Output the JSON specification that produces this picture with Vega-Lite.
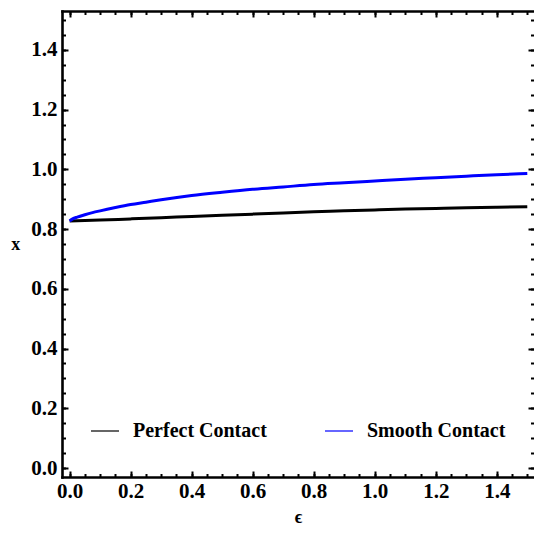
{
  "$schema": "https://vega.github.io/schema/vega-lite/v6.json",
  "autosize": "none",
  "width": 472,
  "height": 466,
  "padding": {"left": 62, "top": 11, "right": 0, "bottom": 59},
  "background": "white",
  "config": {
    "view": {"stroke": null},
    "font": "Liberation Serif",
    "axis": {"grid": false, "domain": false, "domainColor": "black", "domainWidth": 2.6, "domainCap": "square", "labelFont": "Liberation Serif", "labelFontWeight": "bold", "labelFontSize": 21, "labelColor": "black", "titleFont": "Liberation Serif", "titleFontWeight": "bold", "titleFontSize": 18, "titleColor": "black", "tickColor": "black", "tickWidth": 2}
  },
  "data": {"values": [
    {"eps": 0.0, "x": 0.827, "series": "Perfect Contact"},
    {"eps": 0.1, "x": 0.830, "series": "Perfect Contact"},
    {"eps": 0.2, "x": 0.834, "series": "Perfect Contact"},
    {"eps": 0.3, "x": 0.838, "series": "Perfect Contact"},
    {"eps": 0.4, "x": 0.842, "series": "Perfect Contact"},
    {"eps": 0.5, "x": 0.846, "series": "Perfect Contact"},
    {"eps": 0.6, "x": 0.850, "series": "Perfect Contact"},
    {"eps": 0.7, "x": 0.854, "series": "Perfect Contact"},
    {"eps": 0.8, "x": 0.858, "series": "Perfect Contact"},
    {"eps": 0.9, "x": 0.861, "series": "Perfect Contact"},
    {"eps": 1.0, "x": 0.864, "series": "Perfect Contact"},
    {"eps": 1.1, "x": 0.867, "series": "Perfect Contact"},
    {"eps": 1.2, "x": 0.869, "series": "Perfect Contact"},
    {"eps": 1.3, "x": 0.871, "series": "Perfect Contact"},
    {"eps": 1.4, "x": 0.873, "series": "Perfect Contact"},
    {"eps": 1.5, "x": 0.875, "series": "Perfect Contact"},
    {"eps": 0.0, "x": 0.827, "series": "Smooth Contact"},
    {"eps": 0.01, "x": 0.834, "series": "Smooth Contact"},
    {"eps": 0.025, "x": 0.840, "series": "Smooth Contact"},
    {"eps": 0.05, "x": 0.848, "series": "Smooth Contact"},
    {"eps": 0.075, "x": 0.855, "series": "Smooth Contact"},
    {"eps": 0.1, "x": 0.861, "series": "Smooth Contact"},
    {"eps": 0.15, "x": 0.872, "series": "Smooth Contact"},
    {"eps": 0.2, "x": 0.882, "series": "Smooth Contact"},
    {"eps": 0.25, "x": 0.890, "series": "Smooth Contact"},
    {"eps": 0.3, "x": 0.898, "series": "Smooth Contact"},
    {"eps": 0.4, "x": 0.912, "series": "Smooth Contact"},
    {"eps": 0.5, "x": 0.923, "series": "Smooth Contact"},
    {"eps": 0.6, "x": 0.933, "series": "Smooth Contact"},
    {"eps": 0.7, "x": 0.941, "series": "Smooth Contact"},
    {"eps": 0.8, "x": 0.949, "series": "Smooth Contact"},
    {"eps": 0.9, "x": 0.955, "series": "Smooth Contact"},
    {"eps": 1.0, "x": 0.961, "series": "Smooth Contact"},
    {"eps": 1.1, "x": 0.967, "series": "Smooth Contact"},
    {"eps": 1.2, "x": 0.972, "series": "Smooth Contact"},
    {"eps": 1.3, "x": 0.977, "series": "Smooth Contact"},
    {"eps": 1.4, "x": 0.982, "series": "Smooth Contact"},
    {"eps": 1.5, "x": 0.986, "series": "Smooth Contact"}
  ]},
  "resolve": {"axis": {"x": "independent", "y": "independent"}},
  "layer": [
    {
      "mark": {"type": "line", "strokeWidth": 3, "clip": true, "interpolate": "monotone"},
      "encoding": {
        "x": {"field": "eps", "type": "quantitative", "scale": {"domain": [-0.025, 1.522], "nice": false, "zero": false},
          "axis": {"orient": "bottom", "ticks": false, "domain": true, "values": [0, 0.2, 0.4, 0.6, 0.8, 1.0, 1.2, 1.4], "format": ".1f", "labelPadding": 3, "title": "ϵ", "titlePadding": 7}},
        "y": {"field": "x", "type": "quantitative", "scale": {"domain": [-0.03, 1.53], "nice": false, "zero": false},
          "axis": {"orient": "left", "ticks": false, "domain": true, "values": [0, 0.2, 0.4, 0.6, 0.8, 1.0, 1.2, 1.4], "format": ".1f", "labelPadding": 5, "title": "x", "titleAngle": 0, "titleBaseline": "middle", "titleAlign": "right", "titlePadding": 11}},
        "color": {"field": "series", "type": "nominal", "scale": {"domain": ["Perfect Contact", "Smooth Contact"], "range": ["#000000", "#0000ff"]},
          "legend": {"title": null, "orient": "none", "legendX": 28, "legendY": 405, "direction": "horizontal", "symbolType": "stroke", "symbolSize": 784, "symbolStrokeWidth": 1.2, "labelOffset": 13, "columnPadding": 55, "padding": 0, "labelFont": "Liberation Serif", "labelFontWeight": "bold", "labelFontSize": 20, "labelColor": "black"}}
      }
    },
    {
      "mark": {"type": "line", "opacity": 0},
      "encoding": {
        "x": {"field": "eps", "type": "quantitative", "axis": {"orient": "bottom", "labels": false, "title": null, "values": [0, 0.2, 0.4, 0.6, 0.8, 1.0, 1.2, 1.4], "tickSize": -6}},
        "y": {"field": "x", "type": "quantitative", "axis": {"orient": "left", "labels": false, "title": null, "values": [0, 0.2, 0.4, 0.6, 0.8, 1.0, 1.2, 1.4], "tickSize": -6}}
      }
    },
    {
      "mark": {"type": "line", "opacity": 0},
      "encoding": {
        "x": {"field": "eps", "type": "quantitative", "axis": {"orient": "bottom", "labels": false, "title": null, "values": [0, 0.05, 0.1, 0.15, 0.2, 0.25, 0.3, 0.35, 0.4, 0.45, 0.5, 0.55, 0.6, 0.65, 0.7, 0.75, 0.8, 0.85, 0.9, 0.95, 1.0, 1.05, 1.1, 1.15, 1.2, 1.25, 1.3, 1.35, 1.4, 1.45, 1.5], "tickSize": -3.5}},
        "y": {"field": "x", "type": "quantitative", "axis": {"orient": "left", "labels": false, "title": null, "values": [0, 0.05, 0.1, 0.15, 0.2, 0.25, 0.3, 0.35, 0.4, 0.45, 0.5, 0.55, 0.6, 0.65, 0.7, 0.75, 0.8, 0.85, 0.9, 0.95, 1.0, 1.05, 1.1, 1.15, 1.2, 1.25, 1.3, 1.35, 1.4, 1.45, 1.5], "tickSize": -3.5}}
      }
    },
    {
      "mark": {"type": "line", "opacity": 0},
      "encoding": {
        "x": {"field": "eps", "type": "quantitative", "axis": {"orient": "top", "labels": false, "title": null, "domain": true, "values": [0, 0.2, 0.4, 0.6, 0.8, 1.0, 1.2, 1.4], "tickSize": -6}},
        "y": {"field": "x", "type": "quantitative", "axis": {"orient": "right", "labels": false, "title": null, "values": [0, 0.2, 0.4, 0.6, 0.8, 1.0, 1.2, 1.4], "tickSize": -6}}
      }
    },
    {
      "mark": {"type": "line", "opacity": 0},
      "encoding": {
        "x": {"field": "eps", "type": "quantitative", "axis": {"orient": "top", "labels": false, "title": null, "values": [0, 0.05, 0.1, 0.15, 0.2, 0.25, 0.3, 0.35, 0.4, 0.45, 0.5, 0.55, 0.6, 0.65, 0.7, 0.75, 0.8, 0.85, 0.9, 0.95, 1.0, 1.05, 1.1, 1.15, 1.2, 1.25, 1.3, 1.35, 1.4, 1.45, 1.5], "tickSize": -3.5}},
        "y": {"field": "x", "type": "quantitative", "axis": {"orient": "right", "labels": false, "title": null, "values": [0, 0.05, 0.1, 0.15, 0.2, 0.25, 0.3, 0.35, 0.4, 0.45, 0.5, 0.55, 0.6, 0.65, 0.7, 0.75, 0.8, 0.85, 0.9, 0.95, 1.0, 1.05, 1.1, 1.15, 1.2, 1.25, 1.3, 1.35, 1.4, 1.45, 1.5], "tickSize": -3.5}}
      }
    }
  ]
}
